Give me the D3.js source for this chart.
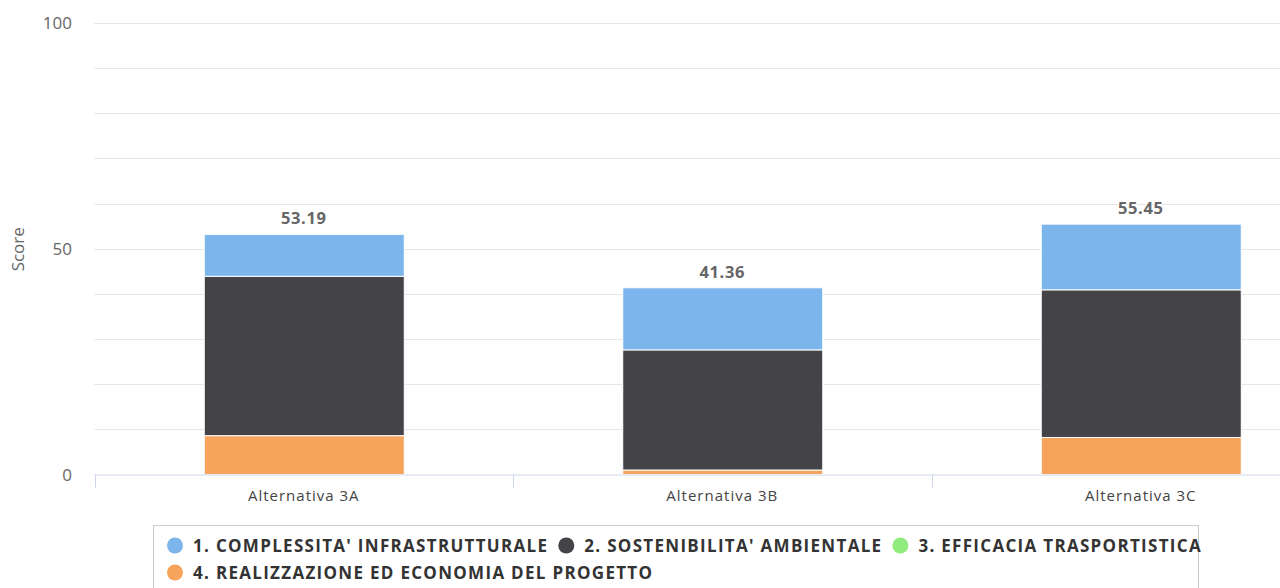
<!DOCTYPE html>
<html>
<head>
<meta charset="utf-8">
<script src="https://cdn.jsdelivr.net/npm/d3@7"></script>
<style>
  html, body { margin: 0; padding: 0; background: #fff; }
  svg { display: block; font-family: "Open Sans", "DejaVu Sans", sans-serif; }
</style>
</head>
<body>
<svg id="chart" width="1280" height="588"></svg>
<script>
// Alternatives compared
const categories = ["Alternativa 3A", "Alternativa 3B", "Alternativa 3C"];

// Criterion scores per alternative
const complessitaInfrastrutturale = [9.29, 13.76, 14.55];
const sostenibilitaAmbientale     = [35.30, 26.60, 32.70];
const efficaciaTrasportistica     = [0, 0, 0];
const realizzazioneEconomia       = [8.60, 1.00, 8.20];

// Totals shown above each column
const totals = [53.19, 41.36, 55.45];

const seriesNames = [
  "1. COMPLESSITA' INFRASTRUTTURALE",
  "2. SOSTENIBILITA' AMBIENTALE",
  "3. EFFICACIA TRASPORTISTICA",
  "4. REALIZZAZIONE ED ECONOMIA DEL PROGETTO"
];
const seriesColors = ["#7cb5ec", "#434348", "#90ed7d", "#f7a35c"];
const seriesValues = [complessitaInfrastrutturale, sostenibilitaAmbientale, efficaciaTrasportistica, realizzazioneEconomia];

const yTicks = [0, 50, 100];
const yGrid = d3.range(0, 101, 10);

const svg = d3.select("#chart");
const plot = { left: 94.5, right: 1350, top: 23, bottom: 474.5 };

const x = d3.scaleBand().domain(categories).range([plot.left, plot.right]).paddingInner(0).paddingOuter(0);
const y = d3.scaleLinear().domain([0, 100]).range([plot.bottom, plot.top]);

// Horizontal grid lines
svg.append("g").selectAll("line").data(yGrid.filter(d => d > 0)).join("line")
  .attr("x1", plot.left).attr("x2", plot.right)
  .attr("y1", d => Math.round(y(d)) + 0.5).attr("y2", d => Math.round(y(d)) + 0.5)
  .attr("stroke", "#e6e6e6").attr("stroke-width", 1);

// Stacked columns: last series sits at the bottom, first on top
const rows = categories.map((c, i) => {
  const r = { cat: c };
  seriesNames.forEach((n, s) => r[n] = seriesValues[s][i]);
  return r;
});
const stackOrder = seriesNames.slice().reverse();
const stacked = d3.stack().keys(stackOrder)(rows);

const barWidth = 200;
const gBars = svg.append("g");
stacked.forEach(layer => {
  const color = seriesColors[seriesNames.indexOf(layer.key)];
  gBars.selectAll(null).data(layer.filter(d => d[1] - d[0] > 0)).join("rect")
    .attr("x", d => x(d.data.cat) + x.bandwidth() / 2 - barWidth / 2 + 0.5)
    .attr("width", barWidth)
    .attr("y", d => y(d[1]))
    .attr("height", d => y(d[0]) - y(d[1]))
    .attr("fill", color)
    .attr("stroke", "#ffffff")
    .attr("stroke-width", 1);
});

// Totals above the columns
svg.append("g").selectAll("text").data(categories).join("text")
  .attr("x", c => x(c) + x.bandwidth() / 2)
  .attr("y", (c, i) => y(totals[i]) - 10)
  .attr("text-anchor", "middle")
  .attr("font-size", 16.5).attr("font-weight", "bold")
  .attr("letter-spacing", 0.6)
  .attr("fill", "#666666")
  .attr("stroke", "#ffffff").attr("stroke-width", 2).attr("paint-order", "stroke")
  .text((c, i) => totals[i].toFixed(2));

// X axis
const xAxis = svg.append("g");
xAxis.append("line")
  .attr("x1", plot.left).attr("x2", plot.right)
  .attr("y1", plot.bottom + 0.5).attr("y2", plot.bottom + 0.5)
  .attr("stroke", "#ccd6eb");
xAxis.selectAll("line.tick").data(categories).join("line").attr("class", "tick")
  .attr("x1", c => Math.round(x(c)) + 0.5).attr("x2", c => Math.round(x(c)) + 0.5)
  .attr("y1", plot.bottom).attr("y2", plot.bottom + 13)
  .attr("stroke", "#ccd6eb");
xAxis.selectAll("text").data(categories).join("text")
  .attr("x", c => x(c) + x.bandwidth() / 2)
  .attr("y", plot.bottom + 26)
  .attr("text-anchor", "middle")
  .attr("font-size", 15).attr("letter-spacing", 1)
  .attr("fill", "#444444")
  .text(c => c);

// Y axis labels
svg.append("g").selectAll("text").data(yTicks).join("text")
  .attr("x", 72).attr("y", d => y(d) + 6)
  .attr("text-anchor", "end")
  .attr("font-size", 17).attr("fill", "#666666")
  .text(d => d);

svg.append("text")
  .attr("transform", `translate(24, ${y(50) + 0.5}) rotate(-90)`)
  .attr("text-anchor", "middle")
  .attr("font-size", 17).attr("fill", "#666666")
  .text("Score");

// Legend
const legend = svg.append("g");
legend.append("rect")
  .attr("x", 153.5).attr("y", 525.5).attr("width", 1045).attr("height", 80)
  .attr("fill", "none").attr("stroke", "#cccccc").attr("stroke-width", 1);

const rowsLayout = [[0, 1, 2], [3]];
const rowY = [545.5, 572.5];
rowsLayout.forEach((row, ri) => {
  let cx = 175;
  row.forEach(s => {
    legend.append("circle").attr("cx", cx).attr("cy", rowY[ri]).attr("r", 8)
      .attr("fill", seriesColors[s]);
    const t = legend.append("text")
      .attr("x", cx + 18).attr("y", rowY[ri] + 6)
      .attr("font-size", 17).attr("font-weight", "bold")
      .attr("letter-spacing", 1.3)
      .attr("fill", "#333333")
      .text(seriesNames[s]);
    const w = t.node().getComputedTextLength();
    cx = cx + 18 + w + 18;
  });
});
</script>
</body>
</html>
